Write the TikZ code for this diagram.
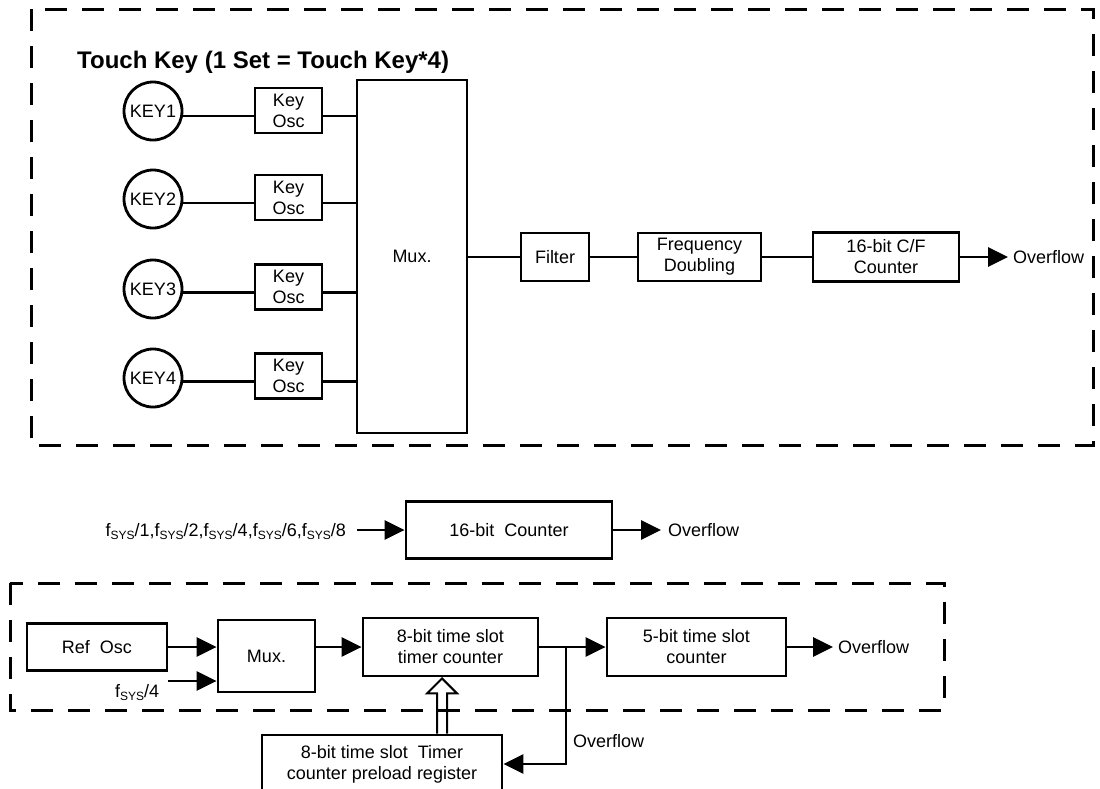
\documentclass[tikz,border=0pt]{standalone}
\usepackage{fontspec}
\setmainfont{Liberation Sans}
\usetikzlibrary{arrows.meta,calc}
\newcommand\fsy{f\raisebox{-0.22em}{\fontsize{12}{12}\selectfont SYS}}
\begin{document}
\begin{tikzpicture}[x=1pt,y=-1pt,
  every node/.style={font=\fontsize{18}{21}\selectfont, inner sep=0pt},
  blk/.style={draw, line width=2.8pt, align=center},
  keyc/.style={draw, circle, line width=2.8pt, minimum size=58pt},
  conn/.style={line width=2.8pt},
  arr/.style={conn, -{Triangle[length=20pt,width=19pt]}},
  dbox/.style={line width=3pt, dash pattern=on 22pt off 15pt},
  hollow/.style={line width=2pt, line join=miter}]
\useasboundingbox (0,0) rectangle (1100,788);

% ---------- top group ----------
\draw[dbox] (31,9) rectangle (1093,445);
\node[anchor=base west, font=\fontsize{24}{28}\selectfont\bfseries] (title) at (77,68) {Touch Key (1 Set = Touch Key*4)};

\node[keyc] (k1) at (153,111) {KEY1};
\node[keyc] (k2) at (153,199) {KEY2};
\node[keyc] (k3) at (153,289) {KEY3};
\node[keyc] (k4) at (153,378) {KEY4};

\node[blk, minimum width=67pt, minimum height=45pt] (o1) at (288.5,110.5) {Key\\Osc};
\node[blk, minimum width=67pt, minimum height=45pt] (o2) at (288.5,197.5) {Key\\Osc};
\node[blk, minimum width=67pt, minimum height=45pt] (o3) at (288.5,287) {Key\\Osc};
\node[blk, minimum width=67pt, minimum height=45pt] (o4) at (288.5,376) {Key\\Osc};

\node[blk, minimum width=110pt, minimum height=353pt] (mux) at (412,256.5) {Mux.};

\foreach \i in {1,2,3,4}{
  \draw[conn] ([yshift=-5.5pt]o\i.west -| k\i.east) -- ([yshift=-5.5pt]o\i.west);
  \draw[conn] ([yshift=-5.5pt]o\i.east) -- ([yshift=-5.5pt]o\i.east -| mux.west);
}

\node[blk, minimum width=68pt, minimum height=48pt] (filt) at (555,257) {Filter};
\node[blk, minimum width=123pt, minimum height=48pt] (freq) at (699.5,257) {Frequency\\Doubling};
\node[blk, minimum width=146pt, minimum height=49pt] (cf) at (886,257) {16-bit C/F\\Counter};
\coordinate (cfo) at (1008,257);
\node[anchor=west] (ov1) at (1013,257) {Overflow};

\draw[conn] (mux.east |- filt.west) -- (filt.west);
\draw[conn] (filt) -- (freq);
\draw[conn] (freq) -- (cf);
\draw[arr] (cf.east) -- (cfo);

% ---------- 16-bit counter ----------
\node[anchor=base east] (fs) at (346,536) {\fsy/1,\fsy/2,\fsy/4,\fsy/6,\fsy/8};
\coordinate (fsa) at (357,530);
\node[blk, minimum width=206pt, minimum height=57pt] (c16) at (509,530) {16-bit\ \ Counter};
\coordinate (c16o) at (661,530);
\node[anchor=west] (ov2) at (668,530) {Overflow};
\draw[arr] (fsa) -- (fsa -| c16.west);
\draw[arr] (c16.east) -- (c16o);

% ---------- bottom group ----------
\draw[dbox] (10,583) rectangle (944,710);
\node[blk, minimum width=140pt, minimum height=47pt] (ref) at (97,647) {Ref\ \ Osc};
\node[blk, minimum width=97pt, minimum height=72pt] (mux2) at (266.5,656) {Mux.};
\coordinate (f4a) at (168,681);
\node[anchor=base west] (f4) at (115,697) {\fsy/4};
\node[blk, minimum width=175pt, minimum height=58pt] (t8) at (450.5,647) {8-bit time slot\\timer counter};
\node[blk, minimum width=179pt, minimum height=58pt] (c5) at (696.5,647) {5-bit time slot\\counter};
\coordinate (c5o) at (833,647);
\node[anchor=west] (ov3) at (838,647) {Overflow};
\node[blk, minimum width=240pt, minimum height=58pt] (pre) at (382,764) {8-bit time slot\ \ Timer\\counter preload register};
\coordinate (j) at (566,647);
\node[anchor=west] (ov4) at (573,741) {Overflow};

\draw[arr] (ref.east) -- (ref.east -| mux2.west);
\draw[arr] (f4a) -- (f4a -| mux2.west);
\draw[arr] (mux2.east |- t8.west) -- (t8.west);
\draw[arr] (t8.east) -- (c5.west);
\draw[arr] (c5.east) -- (c5o);
\draw[arr] (j) -- (j |- pre.east) -- (pre.east);

\coordinate (hb) at (442,0 |- pre.north);
\coordinate (ht) at (442,0 |- t8.south);
\draw[hollow] ([xshift=-5pt]hb) -- ([xshift=-5pt,yshift=-16pt]ht) -- ([xshift=-15pt,yshift=-16pt]ht) -- ([yshift=-1pt]ht) -- ([xshift=15pt,yshift=-16pt]ht) -- ([xshift=5pt,yshift=-16pt]ht) -- ([xshift=5pt]hb);
\end{tikzpicture}
\end{document}
